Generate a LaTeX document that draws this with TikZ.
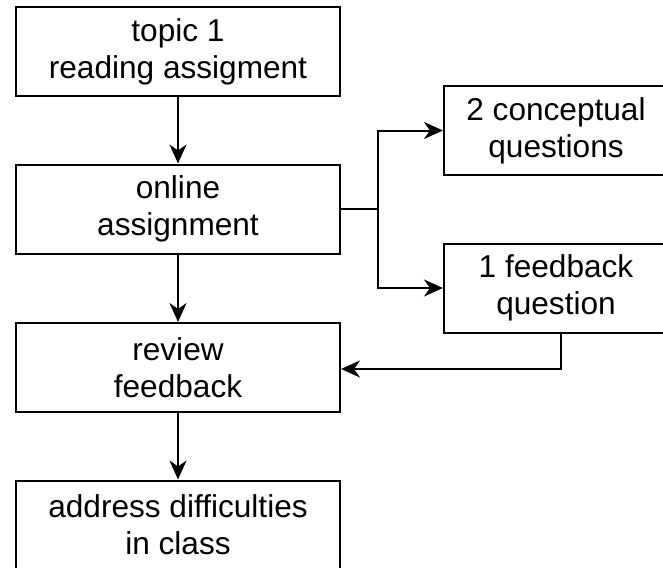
\documentclass[tikz,border=0pt]{standalone}
\usepackage{fontspec}
\setmainfont{Liberation Sans}
\usetikzlibrary{arrows.meta}
\begin{document}
\begin{tikzpicture}[x=1pt,y=-1pt,
  box/.style={draw, line width=2pt, minimum width=324pt, minimum height=89pt, align=center,
    font=\fontsize{31.6pt}{37pt}\selectfont, inner sep=0pt},
  rbox/.style={box, minimum width=224pt},
  conn/.style={line width=2pt, -{Stealth[length=19pt,width=17pt,inset=6pt]}},
  line/.style={line width=2pt}]
\useasboundingbox (0,0) rectangle (663,567);
\clip (0,0) rectangle (663,567);
\node[box] (b1) at (178,52) {topic 1\\reading assigment};
\node[box] (b2) at (178,209) {online\\assignment};
\node[box] (b3) at (178,367.5) {review\\feedback};
\node[box] (b4) at (178,525) {address difficulties\\in class};
\node[rbox] (c1) at (556,130.5) {2 conceptual\\questions};
\node[rbox] (f1) at (556,288) {1 feedback\\question};
\draw[conn] (b1) -- (b2);
\draw[conn] (b2) -- (b3);
\draw[conn] (b3) -- (b4);
\coordinate (j) at (378,209);
\draw[line] (b2.east) -- (j);
\draw[conn] (j) |- (c1.west);
\draw[conn] (j) |- (f1.west);
\draw[conn] ([xshift=5pt]f1.south) |- ([yshift=-1.5pt]b3.east);
\end{tikzpicture}
\end{document}
